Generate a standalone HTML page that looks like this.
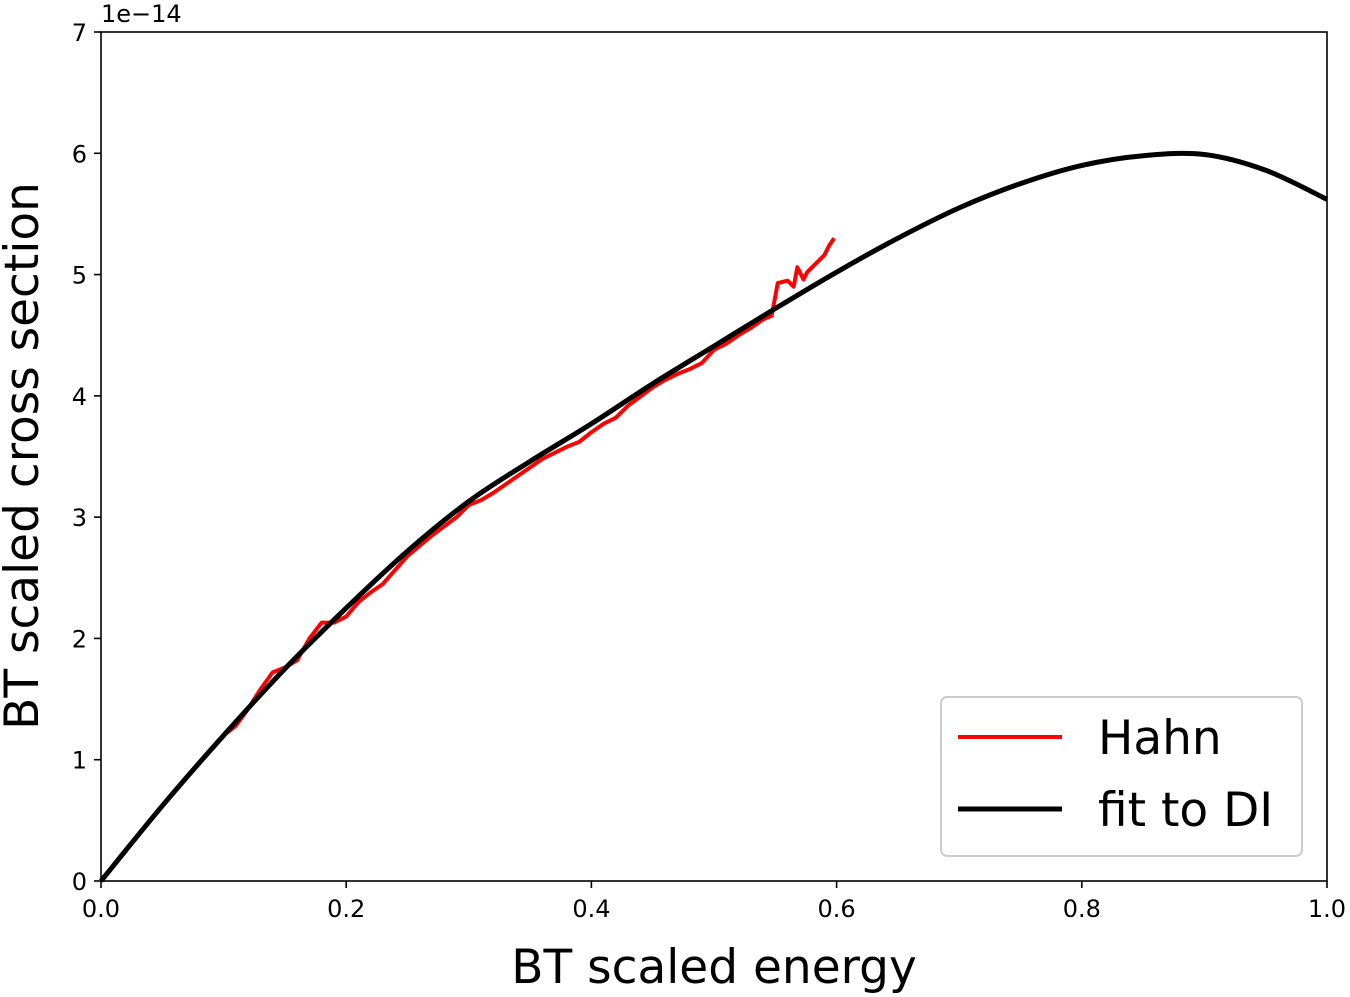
<!DOCTYPE html>
<html><head><meta charset="utf-8"><style>
body{margin:0;background:#fff;font-family:"DejaVu Sans","Liberation Sans",sans-serif}
svg text{font-family:"DejaVu Sans","Liberation Sans",sans-serif}
</style></head><body>
<svg id="c" width="1350" height="993" xmlns="http://www.w3.org/2000/svg"></svg>
<script>
const xTicks=[0.0,0.2,0.4,0.6,0.8,1.0];
const xTickLabels=["0.0","0.2","0.4","0.6","0.8","1.0"];
const yTicks=[0,1,2,3,4,5,6,7];
const yTickLabels=["0","1","2","3","4","5","6","7"];
const fitX=[0,0.05,0.1,0.15,0.2,0.25,0.3,0.35,0.4,0.45,0.5,0.55,0.6,0.65,0.7,0.75,0.8,0.85,0.9,0.95,1.0];
const fitY=[0,0.62,1.2,1.75,2.25,2.72,3.13,3.46,3.77,4.1,4.41,4.72,5.02,5.3,5.55,5.75,5.9,5.98,5.99,5.86,5.62];
const hahnX=[0.09,0.1,0.11,0.12,0.13,0.14,0.15,0.16,0.17,0.18,0.19,0.2,0.21,0.22,0.23,0.25,0.27,0.29,0.3,0.31,0.32,0.34,0.36,0.38,0.39,0.4,0.41,0.42,0.43,0.45,0.46,0.47,0.48,0.49,0.5,0.51,0.52,0.53,0.54,0.547,0.552,0.56,0.565,0.568,0.573,0.576,0.584,0.59,0.594,0.598];
const hahnY=[1.08,1.2,1.28,1.42,1.58,1.72,1.76,1.82,2.0,2.13,2.13,2.18,2.3,2.38,2.45,2.68,2.85,3.0,3.1,3.14,3.2,3.34,3.48,3.58,3.62,3.7,3.77,3.82,3.92,4.07,4.13,4.18,4.22,4.27,4.38,4.43,4.5,4.56,4.63,4.66,4.93,4.95,4.9,5.06,4.96,5.02,5.1,5.16,5.24,5.3];
const NS="http://www.w3.org/2000/svg",svg=document.getElementById('c');
const L=101,R=1327,T=32,B=881;
const sx=v=>L+(v-0)/(1-0)*(R-L), sy=v=>B-(v/7)*(B-T);
function el(t,a,p){const e=document.createElementNS(NS,t);for(const k in a)e.setAttribute(k,a[k]);(p||svg).appendChild(e);return e;}
function smooth(xs,ys){const p=xs.map((x,i)=>[sx(x),sy(ys[i])]);let d=`M${p[0][0]},${p[0][1]}`;
for(let i=0;i<p.length-1;i++){const p0=p[i-1]||p[i],p1=p[i],p2=p[i+1],p3=p[i+2]||p2;
d+=` C${p1[0]+(p2[0]-p0[0])/6},${p1[1]+(p2[1]-p0[1])/6} ${p2[0]-(p3[0]-p1[0])/6},${p2[1]-(p3[1]-p1[1])/6} ${p2[0]},${p2[1]}`;}return d;}
const hp=el('path',{d:'M'+hahnX.map((x,i)=>sx(x)+','+sy(hahnY[i])).join(' L'),fill:'none',stroke:'#ff0000','stroke-width':4,'stroke-linejoin':'round'});

const fp=el('path',{d:smooth(fitX,fitY),fill:'none',stroke:'#000','stroke-width':5});

const fr=el('rect',{x:L,y:T,width:R-L,height:B-T,fill:'none',stroke:'#000','stroke-width':1.6});

xTicks.forEach((v,i)=>{el('line',{x1:sx(v),x2:sx(v),y1:B,y2:B+7,stroke:'#000','stroke-width':1.6});
const t=el('text',{x:sx(v),y:B+36,'font-size':24,'text-anchor':'middle'});t.textContent=xTickLabels[i];
});
yTicks.forEach((v,i)=>{el('line',{x1:L-7,x2:L,y1:sy(v),y2:sy(v),stroke:'#000','stroke-width':1.6});
const t=el('text',{x:L-14,y:sy(v)+9,'font-size':24,'text-anchor':'end'});t.textContent=yTickLabels[i];
});
</script>
<svg style="position:absolute;left:0;top:0" width="1350" height="993" xmlns="http://www.w3.org/2000/svg">
<text x="101" y="22" font-size="24">1e−14</text>
<text x="714" y="983" font-size="47" text-anchor="middle">BT scaled energy</text>
<text transform="translate(38,456) rotate(-90)" font-size="47" text-anchor="middle">BT scaled cross section</text>
<g>
<rect x="941" y="697" width="361" height="159" rx="6" fill="#fff" stroke="#ccc" stroke-width="2"/>
<line x1="958" y1="737" x2="1062" y2="737" stroke="#ff0000" stroke-width="4"/>
<text x="1098" y="754" font-size="47">Hahn</text>
<line x1="958" y1="809" x2="1062" y2="809" stroke="#000" stroke-width="5"/>
<text x="1098" y="826" font-size="47">fit to DI</text>
</g>
</svg>
</body></html>
